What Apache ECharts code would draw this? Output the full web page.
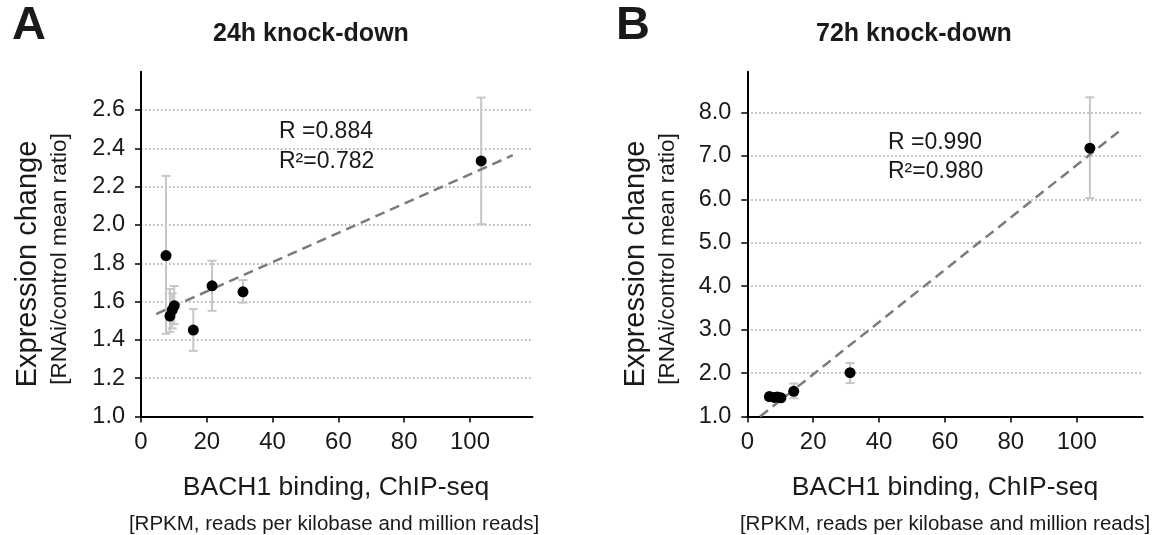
<!DOCTYPE html>
<html>
<head>
<meta charset="utf-8">
<title>BACH1 binding vs expression change</title>
<script src="https://cdn.jsdelivr.net/npm/echarts@6/dist/echarts.min.js"></script>
<style>
  html, body { margin: 0; padding: 0; background: #fff; }
  #chart { width: 1165px; height: 535px; }
</style>
</head>
<body>
<div id="chart"></div>
<script>
'use strict';

// Panel A - 24h knock-down
// --------------------------------------------------------------------
const bindingA = [7.6, 8.8, 9.5, 10.1, 15.9, 21.6, 31.0, 103.4];
const changeA = [1.84, 1.524, 1.556, 1.578, 1.451, 1.682, 1.651, 2.334];
const errLowA = [1.432, 1.442, 1.46, 1.483, 1.343, 1.552, 1.594, 2.004];
const errHighA = [2.256, 1.665, 1.643, 1.681, 1.561, 1.813, 1.712, 2.665];
const fitXA = [4.6, 113.0];
const fitYA = [1.535, 2.364];
const yTicksA = [1.0, 1.2, 1.4, 1.6, 1.8, 2.0, 2.2, 2.4, 2.6];

// Panel B - 72h knock-down
// --------------------------------------------------------------------
const bindingB = [6.7, 8.2, 9.1, 10.2, 14.1, 31.2, 104.0];
const changeB = [1.46, 1.44, 1.45, 1.43, 1.58, 2.01, 7.18];
const errLowB = [1.38, 1.37, 1.37, 1.36, 1.42, 1.77, 6.03];
const errHighB = [1.53, 1.52, 1.53, 1.5, 1.76, 2.23, 8.35];
const fitXB = [3.9, 113.1];
const fitYB = [1.0, 7.58];
const yTicksB = [1, 2, 3, 4, 5, 6, 7, 8];

const xTicks = [0, 20, 40, 60, 80, 100];

(function () {
  const font = "'Liberation Sans', Arial, Helvetica, sans-serif";
  const ink = '#1a1a1a';

  const chart = echarts.init(document.getElementById('chart'), null, { renderer: 'canvas' });

  function pairs(xs, ys) {
    return xs.map(function (x, i) { return [x, ys[i]]; });
  }
  function triples(xs, lo, hi) {
    return xs.map(function (x, i) { return [x, lo[i], hi[i]]; });
  }

  // error bars drawn through the axis scales
  function errorBar(params, api) {
    const top = api.coord([api.value(0), api.value(2)]);
    const bot = api.coord([api.value(0), api.value(1)]);
    const half = 4.5;
    const style = { stroke: '#c6c6c6', lineWidth: 2 };
    return {
      type: 'group',
      children: [
        { type: 'line', shape: { x1: top[0], y1: top[1], x2: bot[0], y2: bot[1] }, style: style },
        { type: 'line', shape: { x1: top[0] - half, y1: top[1], x2: top[0] + half, y2: top[1] }, style: style },
        { type: 'line', shape: { x1: bot[0] - half, y1: bot[1], x2: bot[0] + half, y2: bot[1] }, style: style }
      ]
    };
  }

  function xAxis(idx, max) {
    return {
      type: 'value',
      gridIndex: idx,
      min: 0,
      max: max,
      axisLine: { show: true, lineStyle: { color: '#000', width: 2 } },
      axisTick: { show: true, length: 6, customValues: xTicks, lineStyle: { color: '#000', width: 1.5 } },
      axisLabel: { customValues: xTicks, margin: 14, fontSize: 24, color: ink, fontFamily: font },
      splitLine: { show: false }
    };
  }

  function yAxis(idx, min, max, ticks, digits) {
    return {
      type: 'value',
      gridIndex: idx,
      min: min,
      max: max,
      axisLine: { show: true, onZero: false, lineStyle: { color: '#000', width: 2 } },
      axisTick: { show: true, length: 6, customValues: ticks, lineStyle: { color: '#000', width: 1.5 } },
      axisLabel: {
        customValues: ticks,
        margin: 16,
        fontSize: 23.5,
        color: ink,
        fontFamily: font,
        formatter: function (v) { return v.toFixed(digits); }
      },
      splitLine: { show: true, lineStyle: { color: '#b3b3b3', width: 2, type: [1.5, 2.5] } }
    };
  }

  function text(str, x, y, size, opts) {
    opts = opts || {};
    return {
      type: 'text',
      x: x,
      y: y,
      rotation: opts.rotation || 0,
      style: {
        text: str,
        fill: ink,
        font: (opts.bold ? 'bold ' : '') + size + 'px ' + font,
        align: opts.align || 'center',
        verticalAlign: 'middle'
      }
    };
  }

  const option = {
    animation: false,
    backgroundColor: '#fff',
    grid: [
      { left: 141, top: 71.7, width: 391.5, height: 344.8 },
      { left: 747.3, top: 71.7, width: 395.3, height: 344.8 }
    ],
    xAxis: [xAxis(0, 119), xAxis(1, 120)],
    yAxis: [yAxis(0, 1.0, 2.8, yTicksA, 1), yAxis(1, 1.0, 8.94, yTicksB, 1)],
    graphic: [
      text('A', 12, 26, 47, { bold: true, align: 'left' }),
      text('B', 616, 26, 47, { bold: true, align: 'left' }),
      text('24h knock-down', 213, 34, 25, { bold: true, align: 'left' }),
      text('72h knock-down', 816, 34, 25, { bold: true, align: 'left' }),

      text('Expression change', 28, 264, 29, { rotation: Math.PI / 2 }),
      text('[RNAi/control mean ratio]', 60, 259, 22.5, { rotation: Math.PI / 2 }),
      text('Expression change', 636, 264, 29, { rotation: Math.PI / 2 }),
      text('[RNAi/control mean ratio]', 668, 259, 22.5, { rotation: Math.PI / 2 }),

      text('BACH1 binding, ChIP-seq', 336, 488, 26.5),
      text('[RPKM, reads per kilobase and million reads]', 334, 524, 20.5),
      text('BACH1 binding, ChIP-seq', 945, 488, 26.5),
      text('[RPKM, reads per kilobase and million reads]', 945, 524, 20.5),

      text('R =0.884', 279, 132, 23, { align: 'left' }),
      text('R\u00B2=0.782', 279, 162, 23, { align: 'left' }),
      text('R =0.990', 888, 143, 23, { align: 'left' }),
      text('R\u00B2=0.980', 888, 172, 23, { align: 'left' })
    ],
    series: [
      {
        name: 'errA', type: 'custom', xAxisIndex: 0, yAxisIndex: 0, z: 2,
        renderItem: errorBar, data: triples(bindingA, errLowA, errHighA)
      },
      {
        name: 'fitA', type: 'line', xAxisIndex: 0, yAxisIndex: 0, z: 3,
        showSymbol: false, silent: true,
        lineStyle: { color: '#7b7b7b', width: 2.5, type: [10, 6] },
        data: pairs(fitXA, fitYA)
      },
      {
        name: 'pointsA', type: 'scatter', xAxisIndex: 0, yAxisIndex: 0, z: 4,
        symbolSize: 11, itemStyle: { color: '#000', opacity: 1 },
        data: pairs(bindingA, changeA)
      },
      {
        name: 'errB', type: 'custom', xAxisIndex: 1, yAxisIndex: 1, z: 2,
        renderItem: errorBar, data: triples(bindingB, errLowB, errHighB)
      },
      {
        name: 'fitB', type: 'line', xAxisIndex: 1, yAxisIndex: 1, z: 3,
        showSymbol: false, silent: true,
        lineStyle: { color: '#7b7b7b', width: 2.5, type: [10, 6] },
        data: pairs(fitXB, fitYB)
      },
      {
        name: 'pointsB', type: 'scatter', xAxisIndex: 1, yAxisIndex: 1, z: 4,
        symbolSize: 11, itemStyle: { color: '#000', opacity: 1 },
        data: pairs(bindingB, changeB)
      }
    ]
  };

  chart.setOption(option);
  window.addEventListener('resize', chart.resize);
})();
</script>
</body>
</html>
